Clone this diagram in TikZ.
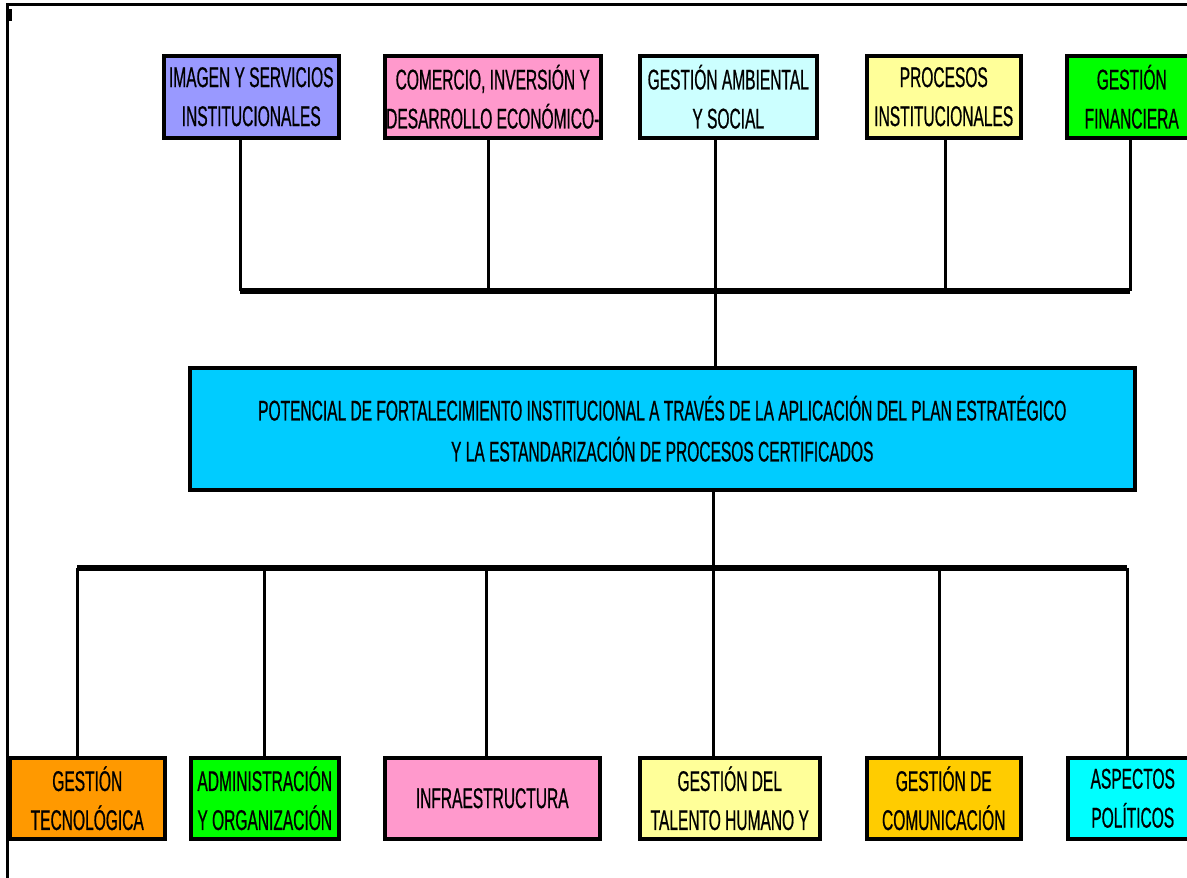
\documentclass[tikz,border=0pt]{standalone}
\usepackage{fontspec}
\newfontfamily\narrowfont[FakeStretch=0.545,FakeBold=0.6]{Liberation Sans}
\definecolor{cLav}{HTML}{9999FF}
\definecolor{cPink}{HTML}{FF99CC}
\definecolor{cLCyan}{HTML}{CCFFFF}
\definecolor{cLYel}{HTML}{FFFF99}
\definecolor{cGreen}{HTML}{00FF00}
\definecolor{cSky}{HTML}{00CCFF}
\definecolor{cOrange}{HTML}{FF9900}
\definecolor{cGold}{HTML}{FFCC00}
\definecolor{cCyan}{HTML}{00FFFF}
\begin{document}
\begin{tikzpicture}[x=1pt,y=-1pt,
  box/.style={draw=black, line width=3.5pt, rectangle, anchor=north west, inner sep=0pt,
    align=center, font=\narrowfont\fontsize{28.5}{39}\selectfont},
  link/.style={line width=3pt},
  bar/.style={line width=5.5pt},
  frame/.style={line width=3pt}]
\useasboundingbox (0,0) rectangle (1187,878);
\fill[white] (0,0) rectangle (1187,878);
% frame
\coordinate (fTL) at (7,4);
\coordinate (fTR) at (1190,4);
\coordinate (fBL) at (7,880);
\draw[frame] (fTR) -- (fTL) -- (fBL);
\fill[black] (7,9) rectangle (12,21);
% top boxes
\node[box, fill=cLav, minimum width=175pt, minimum height=82pt] (t1) at (162,54) {IMAGEN Y SERVICIOS\\INSTITUCIONALES};
\node[box, fill=cPink, minimum width=216pt, minimum height=82pt] (t2) at (383,54) {COMERCIO, INVERSIÓN Y\\DESARROLLO ECONÓMICO-};
\node[box, fill=cLCyan, minimum width=177pt, minimum height=82pt] (t3) at (638,54) {GESTIÓN AMBIENTAL\\Y SOCIAL};
\node[box, fill=cLYel, minimum width=154pt, minimum height=82pt] (t4) at (865,54) {PROCESOS\\INSTITUCIONALES};
\node[box, fill=cGreen, minimum width=130pt, minimum height=82pt] (t5) at (1065,54) {GESTIÓN\\FINANCIERA};
% central box
\node[box, fill=cSky, minimum width=945pt, minimum height=122pt, font=\narrowfont\fontsize{28.5}{41}\selectfont] (c) at (188,366)
  {POTENCIAL DE FORTALECIMIENTO INSTITUCIONAL A TRAVÉS DE LA APLICACIÓN DEL PLAN ESTRATÉGICO\\Y LA ESTANDARIZACIÓN DE PROCESOS CERTIFICADOS};
% bottom boxes
\node[box, fill=cOrange, minimum width=155pt, minimum height=81pt] (b1) at (8,756) {GESTIÓN\\TECNOLÓGICA};
\node[box, fill=cGreen, minimum width=148pt, minimum height=81pt] (b2) at (189,756) {ADMINISTRACIÓN\\Y ORGANIZACIÓN};
\node[box, fill=cPink, minimum width=215pt, minimum height=81pt] (b3) at (383,756) {INFRAESTRUCTURA};
\node[box, fill=cLYel, minimum width=180pt, minimum height=81pt] (b4) at (638,756) {GESTIÓN DEL\\TALENTO HUMANO Y};
\node[box, fill=cGold, minimum width=154pt, minimum height=81pt] (b5) at (865,756) {GESTIÓN DE\\COMUNICACIÓN};
\node[box, fill=cCyan, minimum width=130pt, minimum height=81pt] (b6) at (1066,756) {ASPECTOS\\POLÍTICOS};
% top bar coordinates
\coordinate (u1) at (240,291);
\coordinate (u2) at (488,291);
\coordinate (u3) at (715,291);
\coordinate (u4) at (945,291);
\coordinate (u5) at (1130,291);
\draw[bar] (u1) -- (u5);
\draw[link] (u1) -- (u1 |- t1.south);
\draw[link] (u2) -- (u2 |- t2.south);
\draw[link] (u3) -- (u3 |- t3.south);
\draw[link] (u4) -- (u4 |- t4.south);
\draw[link] (u5) -- (u5 |- t5.south);
\draw[link] (u3) -- (u3 |- c.north);
% bottom bar coordinates
\coordinate (d1) at (77,568);
\coordinate (d2) at (264,568);
\coordinate (d3) at (486,568);
\coordinate (d4) at (713,568);
\coordinate (d5) at (939,568);
\coordinate (d6) at (1127,568);
\draw[bar] (d1) -- (d6);
\draw[link] (d4 |- c.south) -- (d4);
\draw[link] (d1) -- (d1 |- b1.north);
\draw[link] (d2) -- (d2 |- b2.north);
\draw[link] (d3) -- (d3 |- b3.north);
\draw[link] (d4) -- (d4 |- b4.north);
\draw[link] (d5) -- (d5 |- b5.north);
\draw[link] (d6) -- (d6 |- b6.north);
\end{tikzpicture}
\end{document}
